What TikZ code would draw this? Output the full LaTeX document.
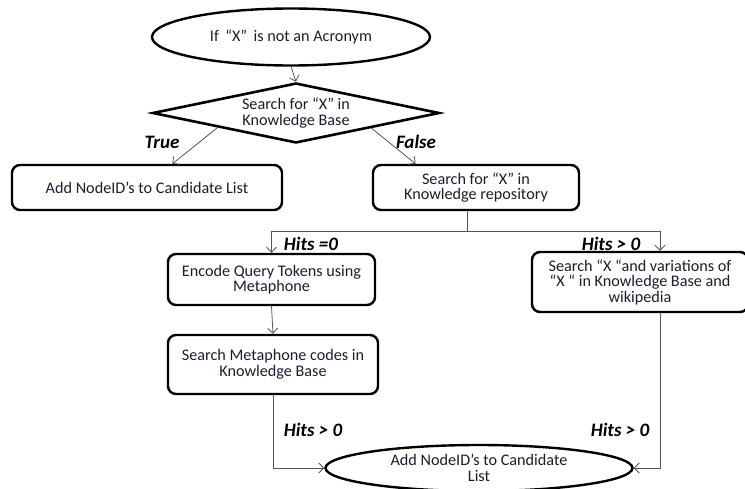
\documentclass[tikz,border=0pt]{standalone}
\usepackage{fontspec}
\setmainfont{Carlito}
\usetikzlibrary{shapes.geometric,arrows.meta,calc}
\definecolor{txt}{RGB}{28,28,48}
\definecolor{conn}{RGB}{85,85,85}
\begin{document}
\begin{tikzpicture}[x=1pt,y=-1pt,
  every node/.style={text=txt,font=\fontsize{16.2}{15.5}\selectfont},
  boxstyle/.style={draw=black,line width=2.4pt,rounded corners=8pt,align=center,inner sep=2pt},
  ovalstyle/.style={draw=black,ellipse,line width=2.4pt,align=center,inner sep=0pt},
  decstyle/.style={draw=black,diamond,line width=2.6pt,align=center,inner sep=0pt,shape aspect=4.8},
  conn/.style={draw=conn,line width=0.8pt},
  arr/.style={conn,-{Straight Barb[length=5pt,width=10pt]}},
  lbl/.style={font=\fontsize{19}{20}\selectfont\bfseries\itshape,text=black}]
\useasboundingbox (0,0) rectangle (745,488);
\node[ovalstyle,minimum width=278,minimum height=57] (e1) at (291,37) {If \,“X”\, is not an Acronym};
\node[decstyle,minimum width=287,minimum height=60] (d) at (296,113) {Search for “X” in\\Knowledge Base};
\node[boxstyle,minimum width=270,minimum height=45] (b1) at (147,187.5) {Add NodeID’s to Candidate List};
\node[boxstyle,minimum width=206,minimum height=45] (b2) at (476,187.5) {Search for “X” in\\Knowledge repository};
\node[boxstyle,minimum width=207,minimum height=51] (b3) at (271.5,279.5) {Encode Query Tokens using\\Metaphone};
\node[boxstyle,minimum width=216,minimum height=60] (b4) at (640,282) {Search “X “and variations of\\“X “ in Knowledge Base and\\wikipedia};
\node[boxstyle,minimum width=210,minimum height=59] (b5) at (273,364.5) {Search Metaphone codes in\\Knowledge Base};
\node[ovalstyle,minimum width=307,minimum height=46] (e2) at (479,468) {Add NodeID’s to Candidate\\List};
% labels
\node[lbl] (lt) at (162,142) {True};
\node[lbl] (lf) at (416,142) {False};
\node[lbl] (lh0) at (311,244) {Hits =0};
\node[lbl] (lh1) at (611,244) {Hits > 0};
\node[lbl] (lh2) at (313,430) {Hits > 0};
\node[lbl] (lh3) at (620,430) {Hits > 0};
% connectors
\draw[arr] (e1.south) -- (d.north);
\coordinate (dl) at ($(d.west)!0.46!(d.south)$);
\coordinate (dr) at ($(d.south)!0.52!(d.east)$);
\coordinate (b1t) at ($(b1.north west)!0.593!(b1.north east)$);
\coordinate (b2t) at ($(b2.north west)!0.21!(b2.north east)$);
\draw[arr] (dl) -- (b1t);
\draw[arr] (dr) -- (b2t);
\coordinate (b2b) at ($(b2.south)+(-9,0)$);
\coordinate (split) at (b2b |- 0,231);
\coordinate (sl) at (b3.north |- split);
\coordinate (sr) at (660,231);
\coordinate (b4t) at (sr |- b4.north);
\coordinate (b4b) at (sr |- b4.south);
\draw[conn] (b2b) -- (split);
\draw[conn] (sl) -- (sr);
\draw[arr] (sl) -- (b3.north);
\draw[arr] (sr) -- (b4t);
\draw[arr] (b3.south) -- (b5.north);
\draw[arr] (b5.south) |- (e2.west);
\draw[arr] (b4b) |- (e2.east);
\end{tikzpicture}
\end{document}
